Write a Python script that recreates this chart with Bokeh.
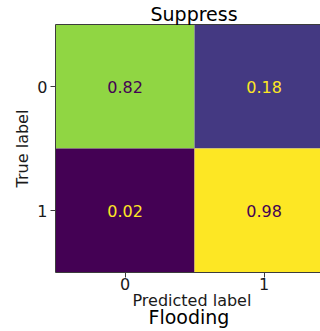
from bokeh.plotting import figure
from bokeh.models import FixedTicker, LinearAxis, ColumnDataSource, LinearColorMapper, Title
from bokeh.transform import transform
from bokeh.embed import file_html
from bokeh.resources import INLINE
from bokeh.core.properties import value
from bokeh.palettes import Viridis256

# Data
pred_idx = [0, 1, 0, 1]
true_idx = [0, 0, 1, 1]
values = [0.82, 0.18, 0.02, 0.98]
tick_labels = ["0", "1"]
title_top = "Suppress"
title_bottom = "Flooding"
xlabel = "Predicted label"
ylabel = "True label"

FONT = "DejaVu Sans"
INK = "#1a1a1a"
SPINE = "#3c3c3c"

vmin, vmax = min(values), max(values)
mapper = LinearColorMapper(palette=Viridis256, low=vmin, high=vmax)
thresh = (vmin + vmax) / 2
text_colors = [Viridis256[0] if v > thresh else Viridis256[-1] for v in values]
cell_text = [f"{v:.2f}" for v in values]
src = ColumnDataSource(dict(x=pred_idx, y=true_idx, v=values, tc=text_colors, lab=cell_text))

p = figure(width=320, height=331, x_range=(-0.5, 1.406), y_range=(1.5, -0.5),
           output_backend="svg", toolbar_location=None,
           min_border_left=55, min_border_right=0, min_border_top=24, min_border_bottom=59)
p.outline_line_color = None
p.grid.visible = False
p.background_fill_color = "white"
p.border_fill_color = "white"

p.rect(x="x", y="y", width=1, height=1, source=src,
       fill_color=transform("v", mapper), line_color=None)
p.text(x="x", y="y", text="lab", source=src, text_color="tc",
       text_align="center", text_baseline="middle",
       text_font=value(FONT), text_font_size="16px")

for ax in (p.xaxis[0], p.yaxis[0]):
    ax.ticker = FixedTicker(ticks=[0, 1])
    ax.major_label_overrides = {0: tick_labels[0], 1: tick_labels[1]}
    ax.minor_tick_line_color = None
    ax.minor_tick_out = 0
    ax.major_tick_in = 0
    ax.major_tick_out = 5
    ax.major_tick_line_color = SPINE
    ax.axis_line_color = SPINE
    ax.major_label_text_font = FONT
    ax.major_label_text_font_size = "16px"
    ax.major_label_text_color = INK

p.xaxis[0].major_label_standoff = 0
p.yaxis[0].major_label_standoff = 3
p.yaxis[0].axis_label = ylabel
p.yaxis[0].axis_label_text_font = FONT
p.yaxis[0].axis_label_text_font_size = "16px"
p.yaxis[0].axis_label_text_font_style = "normal"
p.yaxis[0].axis_label_text_color = INK
p.yaxis[0].axis_label_standoff = 2

# top spine
top_axis = LinearAxis(ticker=FixedTicker(ticks=[]), axis_line_color=SPINE,
                      major_tick_line_color=None, minor_tick_line_color=None,
                      major_tick_out=0, minor_tick_out=0, major_label_standoff=0,
                      major_label_text_font_size="0px")
p.add_layout(top_axis, "above")

p.add_layout(Title(text=title_top, align="left", offset=95, standoff=0,
                   vertical_align="bottom", text_font=FONT, text_font_size="19px",
                   text_font_style="normal", text_color="black"), "above")
p.add_layout(Title(text=xlabel, align="left", offset=77, standoff=-4,
                   vertical_align="top", text_font=FONT, text_font_size="16px",
                   text_font_style="normal", text_color=INK), "below")
p.add_layout(Title(text=title_bottom, align="left", offset=93, standoff=-8,
                   vertical_align="top", text_font=FONT, text_font_size="19px",
                   text_font_style="normal", text_color="black"), "below")

open("out.html", "w").write(file_html(p, INLINE))
